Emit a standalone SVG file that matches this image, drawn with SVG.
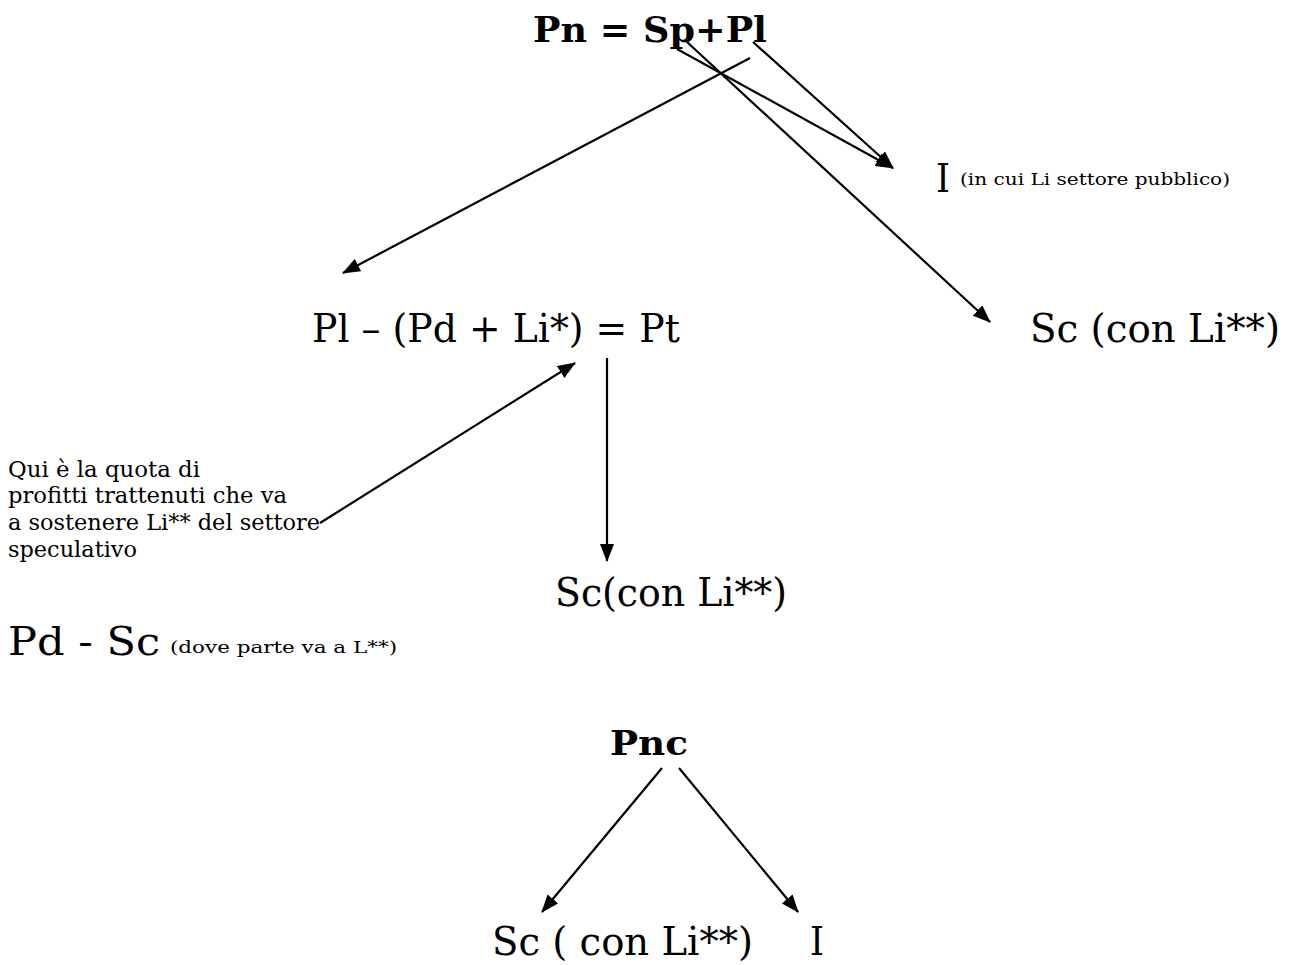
<svg xmlns="http://www.w3.org/2000/svg" width="1293" height="965" viewBox="0 0 1293 965">
<style>
text{font-family:"DejaVu Serif","Liberation Serif",serif;fill:#000}
.b{font-weight:bold}
.big{font-size:40px}
.sm{font-size:16px}
.note{font-size:22px}
.c{stroke:#000;stroke-width:2.2;fill:none;marker-end:url(#ah)}
</style>
<defs>
<marker id="ah" viewBox="0 0 18 14" refX="17" refY="7" markerWidth="18" markerHeight="14" markerUnits="userSpaceOnUse" orient="auto">
<path d="M0,0 L18,7 L0,14 z" fill="#000"/>
</marker>
</defs>
<rect width="1293" height="965" fill="#fff"/>
<g id="connectors">
<line class="c" x1="750" y1="58" x2="343" y2="273"/>
<line class="c" x1="677" y1="49" x2="893" y2="168"/>
<line class="c" x1="753" y1="42" x2="893" y2="168"/>
<line class="c" x1="687" y1="42" x2="990" y2="322"/>
<line class="c" x1="320" y1="523" x2="575" y2="363"/>
<line class="c" x1="607" y1="358" x2="607" y2="561"/>
<line class="c" x1="662" y1="768" x2="542" y2="912"/>
<line class="c" x1="679" y1="768" x2="798" y2="912"/>
</g>
<g id="pn"><text class="b" x="533" y="42" font-size="36" textLength="234" lengthAdjust="spacingAndGlyphs">Pn = Sp+Pl</text></g>
<g id="i-top"><text x="936" y="192" font-size="40" textLength="14" lengthAdjust="spacingAndGlyphs">I</text><text class="sm" x="960" y="185" textLength="270" lengthAdjust="spacingAndGlyphs">(in cui Li settore pubblico)</text></g>
<g id="pl"><text class="big" x="312" y="342" textLength="368" lengthAdjust="spacingAndGlyphs">Pl – (Pd + Li*) = Pt</text></g>
<g id="sc-right"><text class="big" x="1030" y="342" textLength="250" lengthAdjust="spacingAndGlyphs">Sc (con Li**)</text></g>
<g id="note">
<text class="note" x="8" y="477" textLength="192" lengthAdjust="spacingAndGlyphs">Qui è la quota di</text>
<text class="note" x="8" y="503" textLength="279" lengthAdjust="spacingAndGlyphs">profitti trattenuti che va</text>
<text class="note" x="8" y="530" textLength="312" lengthAdjust="spacingAndGlyphs">a sostenere Li** del settore</text>
<text class="note" x="8" y="557" textLength="129" lengthAdjust="spacingAndGlyphs">speculativo</text>
</g>
<g id="sc-mid"><text class="big" x="555" y="606" textLength="232" lengthAdjust="spacingAndGlyphs">Sc(con Li**)</text></g>
<g id="pd"><text class="big" x="8" y="655" textLength="152" lengthAdjust="spacingAndGlyphs">Pd - Sc</text><text class="sm" x="170" y="653" textLength="227" lengthAdjust="spacingAndGlyphs">(dove parte va a L**)</text></g>
<g id="pnc"><text class="b" x="610" y="755" font-size="34" textLength="78" lengthAdjust="spacingAndGlyphs">Pnc</text></g>
<g id="sc-bottom"><text class="big" x="492" y="955" textLength="261" lengthAdjust="spacingAndGlyphs">Sc ( con Li**)</text></g>
<g id="i-bottom"><text class="big" x="810" y="955" textLength="14" lengthAdjust="spacingAndGlyphs">I</text></g>
</svg>
